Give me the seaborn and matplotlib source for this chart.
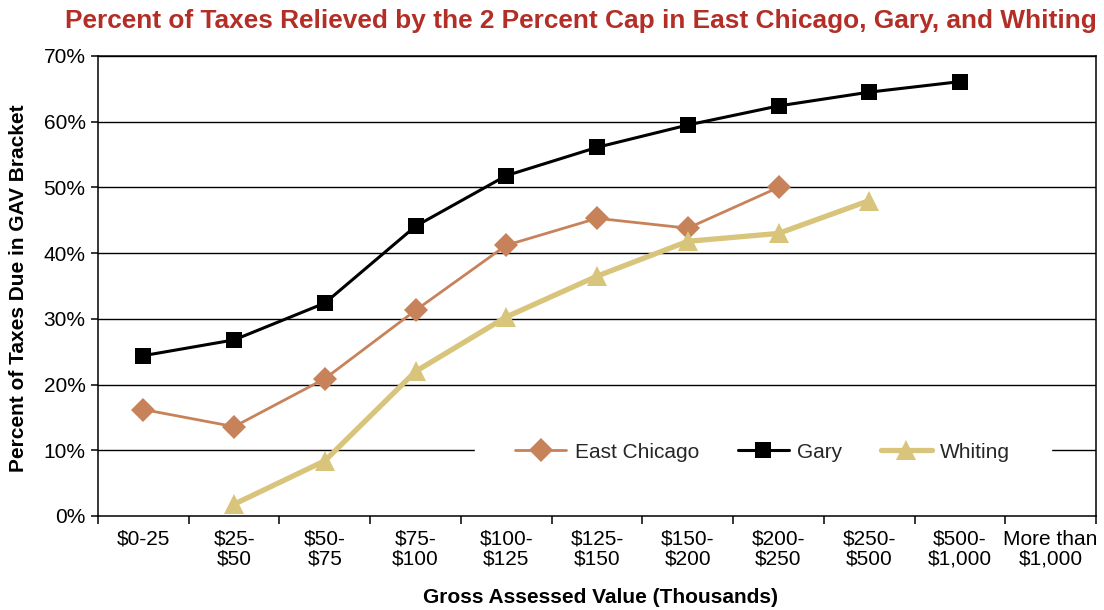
import numpy as np
import pandas as pd
import matplotlib
matplotlib.use("Agg")
import matplotlib.pyplot as plt
import seaborn as sns

# Gross assessed value brackets (thousands of dollars)
categories = ["$0-25", "$25-\n$50", "$50-\n$75", "$75-\n$100", "$100-\n$125",
              "$125-\n$150", "$150-\n$200", "$200-\n$250", "$250-\n$500",
              "$500-\n$1,000", "More than\n$1,000"]

# Percent of taxes relieved by the cap, per bracket (None = no data)
east_chicago = [16.2, 13.6, 20.9, 31.3, 41.2, 45.3, 43.8, 50.0, None, None, None]
gary = [24.4, 26.8, 32.4, 44.1, 51.8, 56.1, 59.5, 62.4, 64.5, 66.1, None]
whiting = [None, 1.8, 8.4, 22.0, 30.3, 36.5, 41.8, 43.0, 48.0, None, None]

y_ticks = [0, 10, 20, 30, 40, 50, 60, 70]

sns.set_theme(style="white")
plt.rcParams["font.family"] = ["Liberation Sans", "DejaVu Sans"]

df = pd.DataFrame({
    "pos": np.arange(len(categories)),
    "East Chicago": east_chicago,
    "Gary": gary,
    "Whiting": whiting,
}).astype(float)

fig = plt.figure(figsize=(11.04, 6.10), dpi=100)
ax = fig.add_axes([0.0888, 0.1541, 0.9040, 0.7541])

series_style = {
    "East Chicago": dict(color="#C8825A", marker="D", markersize=12.0, linewidth=2.0),
    "Gary": dict(color="#000000", marker="s", markersize=11.5, linewidth=2.2),
    "Whiting": dict(color="#D8C47A", marker="^", markersize=14.5, linewidth=3.8),
}

for name, st in series_style.items():
    sub = df[["pos", name]].dropna()
    sns.lineplot(data=sub, x="pos", y=name, ax=ax, label=name,
                 color=st["color"], linewidth=st["linewidth"],
                 marker=st["marker"], markersize=st["markersize"],
                 markeredgewidth=0, markeredgecolor=st["color"],
                 errorbar=None, sort=False, zorder=3)

ax.set_xlim(-0.5, len(categories) - 0.5)
ax.set_ylim(0, 70)

# horizontal gridlines
for v in y_ticks[1:]:
    ax.axhline(v, color="black", linewidth=1.0, zorder=1)

ax.set_yticks(y_ticks)
ax.set_yticklabels([f"{v}%" for v in y_ticks], fontsize=15)
ax.set_xticks(np.arange(len(categories)))
ax.set_xticklabels(categories, fontsize=15, linespacing=1.05)
ax.set_xticks(np.arange(len(categories) + 1) - 0.5, minor=True)
ax.tick_params(axis="x", which="major", length=0, pad=10, colors="black")
ax.tick_params(axis="x", which="minor", length=6, width=1.1, direction="out",
               bottom=True, color="black")
ax.tick_params(axis="y", which="major", length=5, width=1.1, direction="out",
               left=True, pad=4, colors="black")

for sp in ax.spines.values():
    sp.set_color("black")
    sp.set_linewidth(1.1)
    sp.set_visible(True)

ax.set_xlabel("")
ax.set_ylabel("")
fig.text(0.5435, 0.021, "Gross Assessed Value (Thousands)", ha="center", va="center",
         fontsize=15, fontweight="bold", color="black")
fig.text(0.017, 0.528, "Percent of Taxes Due in GAV Bracket", ha="center", va="center",
         rotation=90, fontsize=15, fontweight="bold", color="black")
fig.text(0.5263, 0.966, "Percent of Taxes Relieved by the 2 Percent Cap in East Chicago, Gary, and Whiting",
         ha="center", va="center", fontsize=18.9, fontweight="bold", color="#B22E26")

leg = ax.legend(loc="center", bbox_to_anchor=(0.666, 0.139), ncol=3, fontsize=15,
                frameon=True, fancybox=False, facecolor="white", edgecolor="white",
                framealpha=1, handlelength=2.45, handletextpad=0.4,
                columnspacing=1.85, borderpad=1.95, borderaxespad=0)
leg.set_zorder(5)

fig.savefig("out.png", dpi=100, facecolor="white")
